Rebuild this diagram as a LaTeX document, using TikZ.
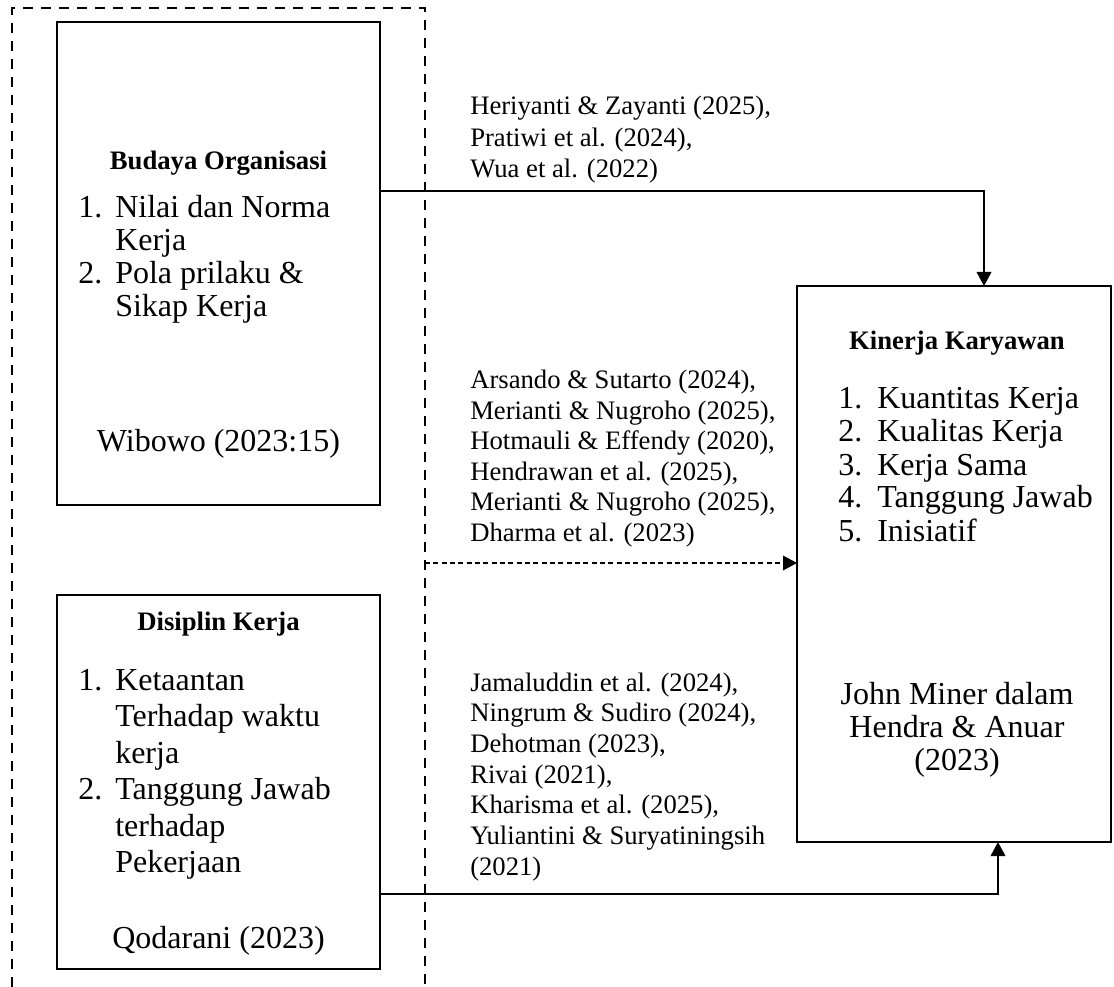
\documentclass[tikz,border=0pt]{standalone}
\usepackage{fontspec}
\setmainfont{Liberation Serif}
\usetikzlibrary{arrows.meta}
\begin{document}
\begin{tikzpicture}[x=0.75pt,y=-0.75pt,
  box/.style={draw, line width=1.5pt, inner sep=0, outer sep=0, anchor=north west},
  big/.style={font=\fontsize{24}{27}\selectfont, inner sep=0, anchor=base west},
  bigc/.style={font=\fontsize{24}{27}\selectfont, inner sep=0, anchor=base},
  small/.style={font=\fontsize{20}{23}\selectfont, inner sep=0, anchor=base west},
  head/.style={font=\fontsize{20}{23}\selectfont\bfseries, inner sep=0, anchor=base},
  link/.style={line width=1pt, -{Triangle[length=10.5pt,width=11pt]}},
  dashlink/.style={link, dash pattern=on 3.75pt off 2.5pt},
  group/.style={line width=1.5pt, dash pattern=on 7.5pt off 6pt},
]
\useasboundingbox (0,0) rectangle (1114,987);

% boxes
\node[box, minimum width={323*0.75pt}, minimum height={483*0.75pt}] (b1) at (57,22) {};
\node[box, minimum width={323*0.75pt}, minimum height={374*0.75pt}] (b2) at (57,595) {};
\node[box, minimum width={314*0.75pt}, minimum height={556*0.75pt}] (b3) at (797,286) {};

% dashed group frame (open at the bottom)
\draw[group] (12,987) -- (12,8) -- (425,8) coordinate (gR) -- (425,987);

% box 1 text
\node[head] (h1) at (218.5,170) {Budaya Organisasi};
\node[big] (n11) at (78,218) {1.};
\node[big] (t11) at (115,218) {Nilai dan Norma};
\node[big] (t12) at (115,251) {Kerja};
\node[big] (n12) at (78,284) {2.};
\node[big] (t13) at (115,284) {Pola prilaku \&};
\node[big] (t14) at (115,317) {Sikap Kerja};
\node[bigc] (s1) at (218.5,452) {Wibowo (2023:15)};

% box 2 text
\node[head] (h2) at (218.5,630) {Disiplin Kerja};
\node[big] (n21) at (78,690) {1.};
\node[big] (t21) at (115,690) {Ketaantan};
\node[big] (t22) at (115,726.5) {Terhadap waktu};
\node[big] (t23) at (115,763) {kerja};
\node[big] (n22) at (78,799.5) {2.};
\node[big] (t24) at (115,799.5) {Tanggung Jawab};
\node[big] (t25) at (115,836) {terhadap};
\node[big] (t26) at (115,872.5) {Pekerjaan};
\node[bigc] (s2) at (218.5,948) {Qodarani (2023)};

% box 3 text
\node[head] (h3) at (957,350) {Kinerja Karyawan};
\node[big] (n31) at (838,409) {1.};
\node[big] (t31) at (877,409) {Kuantitas Kerja};
\node[big] (n32) at (838,442) {2.};
\node[big] (t32) at (877,442) {Kualitas Kerja};
\node[big] (n33) at (838,475) {3.};
\node[big] (t33) at (877,475) {Kerja Sama};
\node[big] (n34) at (838,508) {4.};
\node[big] (t34) at (877,508) {Tanggung Jawab};
\node[big] (n35) at (838,541) {5.};
\node[big] (t35) at (877,541) {Inisiatif};
\node[bigc] (s31) at (957,704) {John Miner dalam};
\node[bigc] (s32) at (957,737) {Hendra \& Anuar};
\node[bigc] (s33) at (957,770) {(2023)};

% citations
\node[small] (c11) at (470,115) {Heriyanti \& Zayanti (2025),};
\node[small] (c12) at (470,146.5) {Pratiwi et al. (2024),};
\node[small] (c13) at (470,178) {Wua et al. (2022)};

\node[small] (c21) at (470,389) {Arsando \& Sutarto (2024),};
\node[small] (c22) at (470,419.4) {Merianti \& Nugroho (2025),};
\node[small] (c23) at (470,449.8) {Hotmauli \& Effendy (2020),};
\node[small] (c24) at (470,480.2) {Hendrawan et al. (2025),};
\node[small] (c25) at (470,510.6) {Merianti \& Nugroho (2025),};
\node[small] (c26) at (470,541) {Dharma et al. (2023)};

\node[small] (c31) at (470,691) {Jamaluddin et al. (2024),};
\node[small] (c32) at (470,721.7) {Ningrum \& Sudiro (2024),};
\node[small] (c33) at (470,752.3) {Dehotman (2023),};
\node[small] (c34) at (470,783) {Rivai (2021),};
\node[small] (c35) at (470,813.7) {Kharisma et al. (2025),};
\node[small] (c36) at (470,844.3) {Yuliantini \& Suryatiningsih};
\node[small] (c37) at (470,875) {(2021)};

% connectors
\coordinate (y1) at (0,191);
\coordinate (y2) at (0,563);
\coordinate (y3) at (0,894);
\draw[link] (b1.east |- y1) -| ([xshift=22.5pt]b3.north);
\draw[dashlink] (gR |- y2) -- (b3.west |- y2);
\draw[link] (b2.east |- y3) -| ([xshift=33pt]b3.south);
\end{tikzpicture}
\end{document}
